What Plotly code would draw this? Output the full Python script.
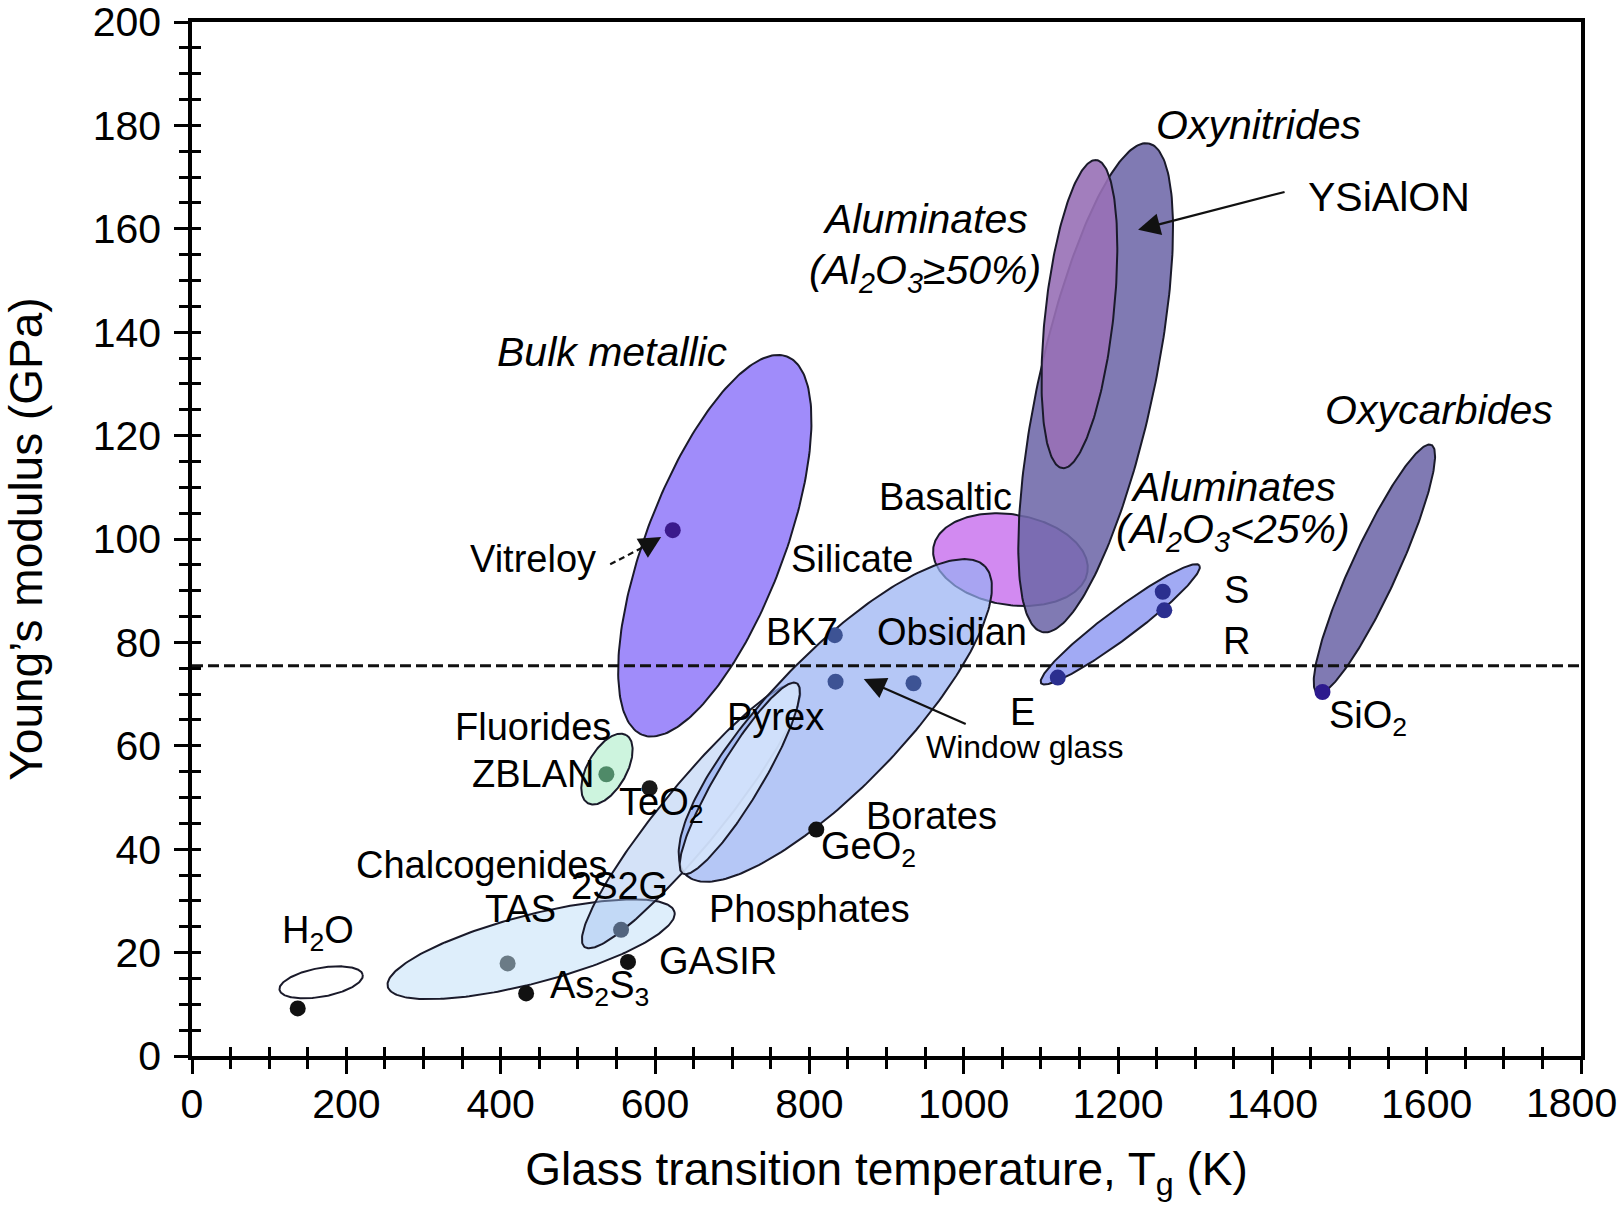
import numpy as np
import plotly.graph_objects as go

# ---------------- data ----------------
X_RANGE = [0, 1800]
Y_RANGE = [0, 200]
X_TICKS = [0, 200, 400, 600, 800, 1000, 1200, 1400, 1600, 1800]
X_TICK_LABELS = ["0", "200", "400", "600", "800", "1000", "1200", "1400", "1600", "1800"]
Y_TICKS = [0, 20, 40, 60, 80, 100, 120, 140, 160, 180, 200]
REF_MODULUS = 75.5  # dashed reference line (GPa)

# glass families drawn as ellipses: two major-axis tips (Tg [K], E [GPa]) + minor/major ratio
FAMILY_NAMES = ["Chalcogenides", "Phosphates", "Basaltic", "Silicate", "Pyrex", "Fluorides",
                "Bulk metallic", "Oxynitrides", "Aluminates >=50%", "Aluminates <25%",
                "Oxycarbides", "H2O"]
FAMILY_TG_1 = [253.7, 508.6, 960.8, 640.4, 636.0, 512.9, 584.0, 1102.1, 1128.0, 1100.4, 1458.5, 113.4]
FAMILY_E_1 = [13.4, 21.1, 98.4, 35.0, 35.3, 48.9, 62.1, 82.0, 113.7, 72.1, 70.2, 12.8]
FAMILY_TG_2 = [625.2, 785.0, 1160.4, 1026.9, 783.7, 562.6, 771.0, 1240.0, 1172.0, 1305.5, 1606.0, 221.3]
FAMILY_E_2 = [27.9, 71.7, 93.6, 94.8, 72.1, 62.1, 135.3, 176.5, 173.3, 94.9, 118.2, 15.7]
FAMILY_RATIO = [0.23, 0.18, 0.58, 0.31, 0.20, 0.50, 0.34, 0.23, 0.22, 0.15, 0.17, 0.34]

# individual glasses (points)
POINT_NAMES = ["H2O", "TAS", "As2S3", "2S2G", "GASIR", "ZBLAN", "TeO2", "GeO2", "BK7",
               "Window glass", "Obsidian", "Vitreloy", "E", "S", "R", "SiO2"]
POINT_TG = [137, 409, 433, 556, 565, 537, 593, 809, 833, 834, 935, 623, 1122, 1258, 1260, 1465]
POINT_E = [9.2, 17.9, 12.1, 24.4, 18.2, 54.5, 51.8, 43.8, 81.4, 72.4, 72.1, 101.7, 73.2, 89.8, 86.2, 70.4]

# ---------------- styles ----------------
FAMILY_FILLS = {
    "Chalcogenides": "rgba(214,234,250,0.80)",
    "Phosphates": "rgba(160,190,240,0.45)",
    "Basaltic": "rgba(205,125,240,0.90)",
    "Silicate": "rgba(150,175,242,0.70)",
    "Pyrex": "rgba(215,230,251,0.85)",
    "Fluorides": "rgba(200,243,218,0.90)",
    "Bulk metallic": "rgba(150,128,250,0.90)",
    "Oxynitrides": "rgba(110,104,168,0.88)",
    "Aluminates >=50%": "rgba(152,112,182,0.90)",
    "Aluminates <25%": "rgba(145,155,242,0.85)",
    "Oxycarbides": "rgba(110,104,168,0.88)",
    "H2O": "rgba(255,255,255,0)",
}
POINT_COLORS = {
    "H2O": "#111111", "TAS": "#6b7b86", "As2S3": "#111111", "2S2G": "#52647e",
    "GASIR": "#111111", "ZBLAN": "#4f8a68", "TeO2": "#1a1a1a", "GeO2": "#111111",
    "BK7": "#3d5394", "Window glass": "#3d5394", "Obsidian": "#3d5394",
    "Vitreloy": "#3b1a8c", "E": "#2b2f8f", "S": "#2b2f8f", "R": "#2b2f8f", "SiO2": "#2d1a8e",
}

FONT = "Liberation Sans, Arial, Helvetica, sans-serif"
FIG_W, FIG_H = 1623, 1206
M_L, M_R, M_T, M_B = 192, 42, 22, 150
PLOT_W = FIG_W - M_L - M_R
PLOT_H = FIG_H - M_T - M_B
SX = PLOT_W / (X_RANGE[1] - X_RANGE[0])
SY = PLOT_H / (Y_RANGE[1] - Y_RANGE[0])
TICK_SIZE = 41


def ellipse(x1, y1, x2, y2, ratio, n=240):
    """Ellipse outline in data units, built in screen space so the tilt is visual."""
    X1, Y1, X2, Y2 = x1 * SX, y1 * SY, x2 * SX, y2 * SY
    cx, cy = (X1 + X2) / 2, (Y1 + Y2) / 2
    dx, dy = X2 - X1, Y2 - Y1
    a = np.hypot(dx, dy) / 2
    b = a * ratio
    ux, uy = dx / (2 * a), dy / (2 * a)
    vx, vy = -uy, ux
    t = np.linspace(0, 2 * np.pi, n)
    X = cx + a * np.cos(t) * ux + b * np.sin(t) * vx
    Y = cy + a * np.cos(t) * uy + b * np.sin(t) * vy
    return X / SX, Y / SY


fig = go.Figure()

for name, xa, ya, xb, yb, r in zip(FAMILY_NAMES, FAMILY_TG_1, FAMILY_E_1,
                                     FAMILY_TG_2, FAMILY_E_2, FAMILY_RATIO):
    ex, ey = ellipse(xa, ya, xb, yb, r)
    fig.add_trace(go.Scatter(
        x=ex, y=ey, mode="lines", fill="toself",
        fillcolor=FAMILY_FILLS[name],
        line=dict(color="#1a1a2a", width=2),
        name=name, showlegend=False, hoverinfo="name",
    ))

fig.add_trace(go.Scatter(
    x=POINT_TG, y=POINT_E, mode="markers",
    marker=dict(size=16, color=[POINT_COLORS[n] for n in POINT_NAMES], line=dict(width=0)),
    text=POINT_NAMES, hoverinfo="text", showlegend=False,
))

# dummy trace for overlay axes (inside half of the crossing ticks)
fig.add_trace(go.Scatter(x=[None], y=[None], xaxis="x2", yaxis="y2",
                         showlegend=False, hoverinfo="skip"))

fig.add_hline(y=REF_MODULUS, line=dict(color="#111111", width=3, dash="11px,5px"), layer="above")

# ---------------- labels ----------------
N = 38   # regular label size
IT = 41  # italic family label size
labels = [
    ("<i>Bulk metallic</i>", 544.6, 136.1, IT),
    ("Vitreloy", 442.5, 96.1, N),
    ("Fluorides", 442.5, 63.7, N),
    ("ZBLAN", 442.5, 54.5, N),
    ("TeO<sub>2</sub>", 609, 48.5, N),
    ("Chalcogenides", 375.6, 36.9, N),
    ("TAS", 425.2, 28.5, N),
    ("2S2G", 554, 32.9, N),
    ("H<sub>2</sub>O", 163.7, 23.7, N),
    ("As<sub>2</sub>S<sub>3</sub>", 528.5, 13.1, N),
    ("GASIR", 681.5, 18.3, N),
    ("Phosphates", 800.8, 28.5, N),
    ("Borates", 957.7, 46.5, N),
    ("GeO<sub>2</sub>", 877.3, 40.1, N),
    ("Pyrex", 756.5, 65.5, N),
    ("BK7", 790.1, 82.1, N),
    ("Obsidian", 984.6, 82.1, N),
    ("Silicate", 855.9, 96.1, N),
    ("Basaltic", 976.5, 108.1, N),
    ("E", 1075.8, 66.5, N),
    ("Window glass", 1078.4, 59.7, 32),
    ("<i>Aluminates</i>", 949.7, 161.8, IT),
    ("<i>(Al<sub>2</sub>O<sub>3</sub>≥50%)</i>", 949.7, 151.4, IT),
    ("<i>Oxynitrides</i>", 1381.6, 180.0, IT),
    ("YSiAlON", 1551.8, 166.2, IT),
    ("<i>Aluminates</i>", 1349.3, 110.1, IT),
    ("<i>(Al<sub>2</sub>O<sub>3</sub><25%)</i>", 1349.3, 101.3, IT),
    ("S", 1353.5, 90.1, N),
    ("R", 1353.5, 80.3, N),
    ("SiO<sub>2</sub>", 1523.7, 65.3, N),
    ("<i>Oxycarbides</i>", 1616.3, 124.9, IT),
]
for txt, lx, ly, fs in labels:
    fig.add_annotation(x=lx, y=ly, text=txt, showarrow=False, xanchor="center", yanchor="middle",
                       font=dict(family=FONT, size=fs, color="#000000"))

# arrows: (tail Tg, tail E) -> (head Tg, head E)
arrows = [
    (1004.6, 64.1, 870.5, 72.9),   # Window glass
    (1417.8, 167.2, 1226.0, 159.8),  # YSiAlON
]
for tx, ty, hx, hy in arrows:
    fig.add_annotation(x=hx, y=hy, ax=tx, ay=ty, xref="x", yref="y", axref="x", ayref="y",
                       text="", showarrow=True, arrowhead=2, arrowsize=2, arrowwidth=2.2,
                       arrowcolor="#111111", standoff=0)

# Vitreloy: dashed leader with arrow head
fig.add_shape(type="line", x0=541.9, y0=95.1, x1=596.0, y1=99.3, xref="x", yref="y",
              line=dict(color="#111111", width=2.2, dash="6px,4px"), layer="above")
fig.add_annotation(x=608.0, y=100.4, ax=590.0, ay=98.8, xref="x", yref="y", axref="x", ayref="y",
                   text="", showarrow=True, arrowhead=2, arrowsize=2, arrowwidth=2.2,
                   arrowcolor="#111111", standoff=0)

# the last x tick label sits flush against the right edge (as in the original figure),
# so it is drawn right-aligned instead of centred on its tick
axis_ticktext = X_TICK_LABELS[:-1] + [""]
fig.add_annotation(x=X_TICKS[-1], y=0, xref="x", yref="paper", text=X_TICK_LABELS[-1],
                   showarrow=False, xanchor="right", yanchor="middle", xshift=38, yshift=-47,
                   font=dict(family=FONT, size=TICK_SIZE, color="#000000"))

# ---------------- axes ----------------
TICK_FONT = dict(family=FONT, size=TICK_SIZE, color="#000000")
common_main = dict(showgrid=False, zeroline=False, showline=True, linecolor="#000000",
                   linewidth=3.5, mirror=True, ticks="outside", ticklen=14, tickwidth=3,
                   tickcolor="#000000", tickfont=TICK_FONT, ticklabeloverflow="allow",
                   automargin=False)
common_overlay = dict(ticks="inside", ticklen=9, tickwidth=3, tickcolor="#000000",
                      showticklabels=False, showgrid=False, zeroline=False, showline=False,
                      automargin=False)

fig.update_layout(
    width=FIG_W, height=FIG_H,
    margin=dict(l=M_L, r=M_R, t=M_T, b=M_B, autoexpand=False),
    plot_bgcolor="#ffffff", paper_bgcolor="#ffffff",
    showlegend=False,
    font=dict(family=FONT, color="#000000"),
    xaxis=dict(range=X_RANGE, tickvals=X_TICKS, ticktext=axis_ticktext, **common_main,
               ticklabelstandoff=-5,
               minor=dict(dtick=50, ticks="outside", ticklen=9, tickwidth=2.5, tickcolor="#000000"),
               title=dict(text="Glass transition temperature, T<sub>g</sub> (K)",
                          font=dict(family=FONT, size=46), standoff=28)),
    yaxis=dict(range=Y_RANGE, tickvals=Y_TICKS, **common_main, ticklabelstandoff=5,
               minor=dict(dtick=5, ticks="outside", ticklen=9, tickwidth=2.5, tickcolor="#000000"),
               title=dict(text="Young’s modulus (GPa)",
                          font=dict(family=FONT, size=46), standoff=55)),
    xaxis2=dict(range=X_RANGE, matches="x", overlaying="x", anchor="y", side="bottom",
                tickvals=X_TICKS, **common_overlay,
                minor=dict(dtick=50, ticks="inside", ticklen=9, tickwidth=2.5, tickcolor="#000000")),
    yaxis2=dict(range=Y_RANGE, matches="y", overlaying="y", anchor="x", side="left",
                tickvals=Y_TICKS, **common_overlay,
                minor=dict(dtick=5, ticks="inside", ticklen=9, tickwidth=2.5, tickcolor="#000000")),
)

# remove the browser's default page margin so the figure fills the window exactly
fig.write_html("out.html", config={"displayModeBar": False},
               post_script="document.body.style.margin='0px';document.body.style.overflow='hidden';")
